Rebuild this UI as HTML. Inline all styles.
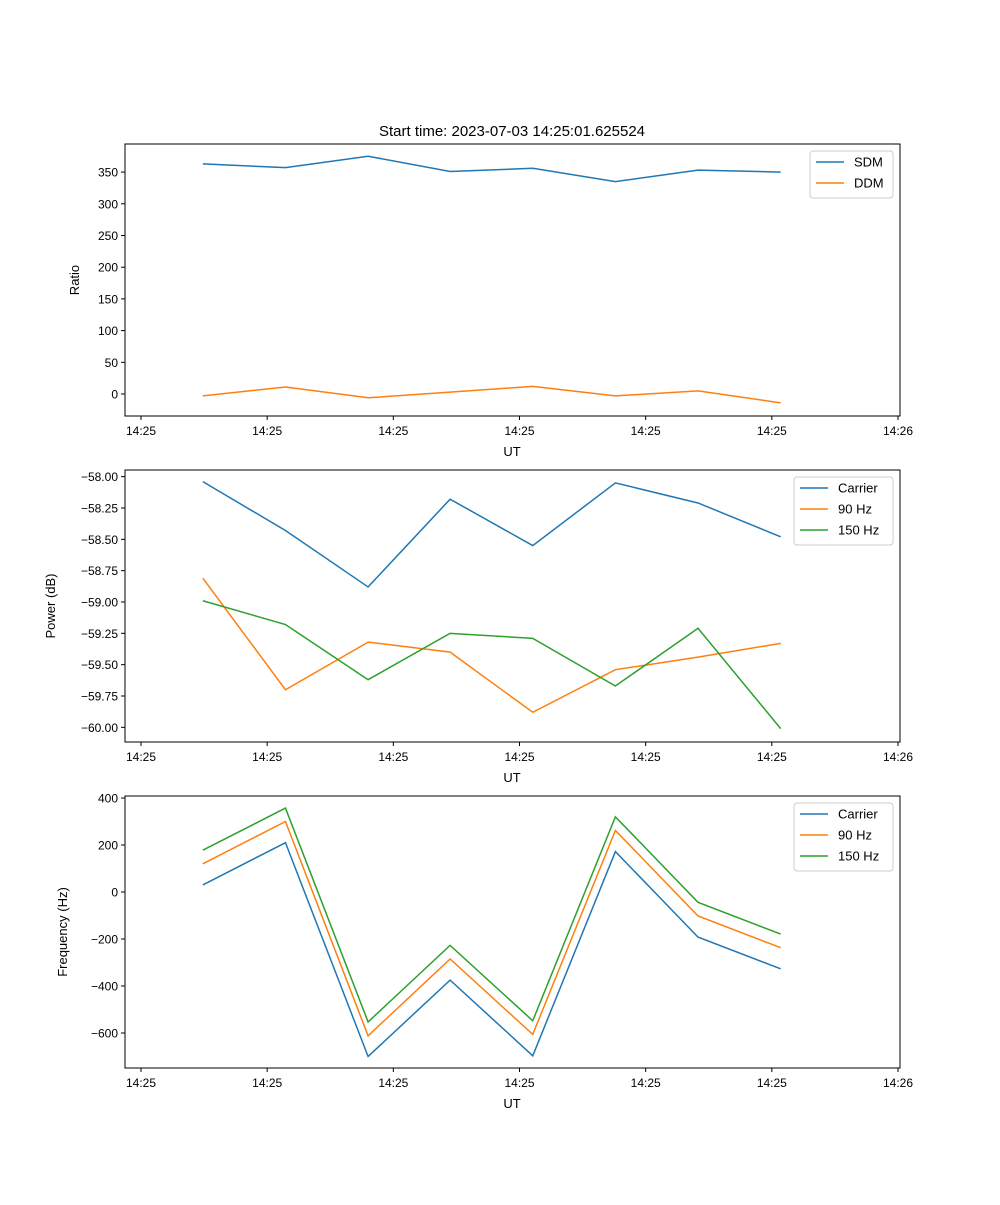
<!DOCTYPE html>
<html><head><meta charset="utf-8"><style>
body{margin:0;background:#fff;}
svg{font-family:"Liberation Sans","DejaVu Sans",sans-serif;}
</style></head><body>
<svg id="fig" width="1000" height="1200" viewBox="0 0 1000 1200" xmlns="http://www.w3.org/2000/svg">
<rect width="1000" height="1200" fill="#fff"/>
<text x="512" y="136" font-size="15" text-anchor="middle">Start time: 2023-07-03 14:25:01.625524</text>
</svg>
<script>
const times = [0.98, 2.29, 3.60, 4.90, 6.21, 7.52, 8.83, 10.14];
const xTickVals = [0, 2, 4, 6, 8, 10, 12];
const xTickLabels = ["14:25","14:25","14:25","14:25","14:25","14:25","14:26"];
const sdm = [363, 357, 375, 351, 356, 335, 353, 350];
const ddm = [-3, 11, -6, 3, 12, -3, 5, -14];
const pCarrier = [-58.04, -58.43, -58.88, -58.18, -58.55, -58.05, -58.21, -58.48];
const p90 = [-58.81, -59.70, -59.32, -59.40, -59.88, -59.54, -59.44, -59.33];
const p150 = [-58.99, -59.18, -59.62, -59.25, -59.29, -59.67, -59.21, -60.01];
const fCarrier = [30, 210, -700, -375, -697, 172, -192, -327];
const f90 = [120, 300, -612, -285, -606, 262, -102, -237];
const f150 = [178, 357, -553, -227, -548, 320, -44, -179];
const ticks1 = [0, 50, 100, 150, 200, 250, 300, 350];
const ticks2 = [-58.00, -58.25, -58.50, -58.75, -59.00, -59.25, -59.50, -59.75, -60.00];
const ticks3 = [400, 200, 0, -200, -400, -600];

const NS = "http://www.w3.org/2000/svg";
const svg = document.getElementById("fig");
function el(tag, attrs, parent) {
  const e = document.createElementNS(NS, tag);
  for (const k in attrs) e.setAttribute(k, attrs[k]);
  (parent || svg).appendChild(e);
  return e;
}
const L = 125, R = 900;
function xs(t) { return 141 + t * (898 - 141) / 12; }
const colors = ["#1f77b4", "#ff7f0e", "#2ca02c"];

function panel(name, top, bottom, yMin, yMax, yTicks, fmt, yTitle, series, names, legend) {
  const g = el("g", {});
  
  
  const ys = v => bottom - (v - yMin) / (yMax - yMin) * (bottom - top);
  series.forEach((s, i) => {
    const p = el("polyline", {points: s.map((v, j) => xs(times[j]) + "," + ys(v)).join(" "), fill: "none", stroke: colors[i], "stroke-width": 1.5}, g);
    
    
  });
  const frame = el("rect", {x: L, y: top, width: R - L, height: bottom - top, fill: "none", stroke: "#000", "stroke-width": 1}, g);
  
  
  xTickVals.forEach((t, i) => {
    const x = xs(t);
    el("line", {x1: x, x2: x, y1: bottom, y2: bottom + 4, stroke: "#000"}, g);
    const tx = el("text", {x: x, y: bottom + 19, "font-size": 12, "text-anchor": "middle"}, g);
    tx.textContent = xTickLabels[i];
    
    
  });
  yTicks.forEach(v => {
    const y = ys(v);
    el("line", {x1: L - 4, x2: L, y1: y, y2: y, stroke: "#000"}, g);
    const tx = el("text", {x: L - 7, y: y + 4.5, "font-size": 12, "text-anchor": "end"}, g);
    tx.textContent = fmt(v);
    
    
  });
  const xl = el("text", {x: 512, y: bottom + 40, "font-size": 13, "text-anchor": "middle"}, g);
  xl.textContent = "UT";
  
  
  const cy = (top + bottom) / 2;
  const yl = el("text", {x: legend.yx, y: cy, "font-size": 13, "text-anchor": "middle", transform: "rotate(-90 " + legend.yx + " " + cy + ")"}, g);
  yl.textContent = yTitle;
  
  
  const lg = el("g", {}, g);
  
  
  el("rect", {x: legend.x, y: top + 7, width: 893 - legend.x, height: names.length * 21 + 5, rx: 3, fill: "#fff", stroke: "#ccc"}, lg);
  names.forEach((n, i) => {
    const ly = top + 7 + 11 + i * 21;
    el("line", {x1: legend.x + 6, x2: legend.x + 34, y1: ly, y2: ly, stroke: colors[i], "stroke-width": 1.5}, lg);
    const t = el("text", {x: legend.x + 44, y: ly + 4.5, "font-size": 13}, lg);
    t.textContent = n;
    
    
  });
}
panel("ratio", 144, 416, -34.7, 394.3, ticks1, v => String(v), "Ratio", [sdm, ddm], ["SDM", "DDM"], {x: 810, yx: 79});
panel("power", 470, 742, -60.117, -57.947, ticks2, v => v.toFixed(2).replace("-", "\u2212"), "Power (dB)", [pCarrier, p90, p150], ["Carrier", "90 Hz", "150 Hz"], {x: 794, yx: 55});
panel("frequency", 796, 1068, -749, 408.5, ticks3, v => String(v).replace("-", "\u2212"), "Frequency (Hz)", [fCarrier, f90, f150], ["Carrier", "90 Hz", "150 Hz"], {x: 794, yx: 67});
</script>
</body></html>
